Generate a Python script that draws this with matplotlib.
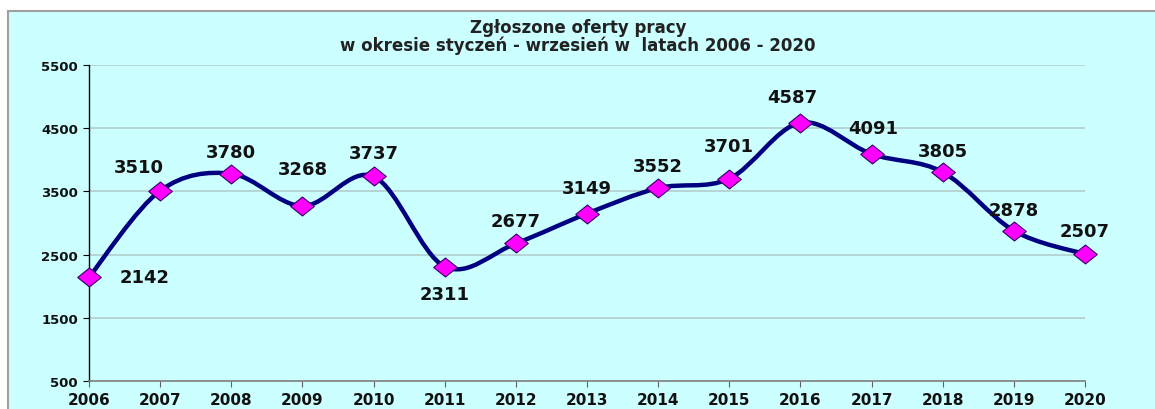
import numpy as np
import matplotlib.pyplot as plt
from matplotlib.path import Path
from matplotlib.patches import PathPatch, Rectangle

years = [2006, 2007, 2008, 2009, 2010, 2011, 2012, 2013, 2014, 2015, 2016, 2017, 2018, 2019, 2020]
offers = [2142, 3510, 3780, 3268, 3737, 2311, 2677, 3149, 3552, 3701, 4587, 4091, 3805, 2878, 2507]
# label offsets in pixels (dx, dy)
label_offsets = [(56, 0), (-21, 24), (0, 22), (0, 37), (0, 23), (0, -27), (0, 22), (0, 26),
                 (0, 22), (0, 33), (-8, 26), (2, 26), (0, 21), (0, 21), (0, 23)]

plt.rcParams['font.family'] = ['DejaVu Sans']
fig = plt.figure(figsize=(11.55, 4.10), dpi=100)
fig.patches.append(Rectangle((8 / 1155, -0.01), 1.0, 1 - 12 / 410 + 0.01, transform=fig.transFigure,
                             facecolor='#CCFFFF', edgecolor='#A0A0A0', linewidth=1.5, zorder=-5))

ax = fig.add_axes([89 / 1155, 1 - 382 / 410, (1085 - 89) / 1155, (382 - 66) / 410])
ax.set_facecolor('none')
ax.set_xlim(2006, 2020)
ax.set_ylim(500, 5500)
ax.set_yticks([500, 1500, 2500, 3500, 4500, 5500])
ax.set_xticks(years)
ax.grid(axis='y', color='#B4CDCD', linewidth=1.2)
ax.set_axisbelow(True)
for s in ['top', 'right']:
    ax.spines[s].set_visible(False)
ax.spines['left'].set_color('black')
ax.spines['left'].set_linewidth(1.0)
ax.spines['bottom'].set_color('#808080')
ax.spines['bottom'].set_linewidth(1.2)
ax.tick_params(axis='x', length=4, color='#606060', labelsize=11, pad=4)
ax.tick_params(axis='y', length=4, color='black', labelsize=9.5, pad=4)
for lab in ax.get_xticklabels() + ax.get_yticklabels():
    lab.set_fontweight('bold')
    lab.set_color('#111111')

# smoothed line (Catmull-Rom -> cubic Bezier segments)
x = np.array(years, dtype=float)
y = np.array(offers, dtype=float)
verts = [(x[0], y[0])]
codes = [Path.MOVETO]
t = 1 / 6
for i in range(len(x) - 1):
    p0 = (x[max(i - 1, 0)], y[max(i - 1, 0)])
    p1 = (x[i], y[i])
    p2 = (x[i + 1], y[i + 1])
    p3 = (x[min(i + 2, len(x) - 1)], y[min(i + 2, len(x) - 1)])
    c1 = (p1[0] + (p2[0] - p0[0]) * t, p1[1] + (p2[1] - p0[1]) * t)
    c2 = (p2[0] - (p3[0] - p1[0]) * t, p2[1] - (p3[1] - p1[1]) * t)
    verts += [c1, c2, p2]
    codes += [Path.CURVE4] * 3
ax.add_patch(PathPatch(Path(verts, codes), facecolor='none', edgecolor='#000080',
                       linewidth=3.2, zorder=3, clip_on=False))

diamond = [(-1.25, 0), (0, 1), (1.25, 0), (0, -1), (-1.25, 0)]
ax.plot(years, offers, linestyle='none', marker=diamond, markersize=17,
        markerfacecolor='#FF00FF', markeredgecolor='#330066', markeredgewidth=0.8,
        zorder=4, clip_on=False)

for xi, yi, (dx, dy) in zip(years, offers, label_offsets):
    ax.annotate(str(yi), (xi, yi), xytext=(dx, dy), textcoords='offset pixels',
                ha='center', va='center', fontsize=13, fontweight='bold', color='#111111')

fig.text(578 / 1155, 1 - 28 / 410, 'Zgłoszone oferty pracy', ha='center', va='center',
         fontsize=12, fontweight='bold', color='#222222')
fig.text(578 / 1155, 1 - 46 / 410, 'w okresie styczeń - wrzesień w  latach 2006 - 2020', ha='center',
         va='center', fontsize=12, fontweight='bold', color='#222222')

fig.savefig('out.png', dpi=100)
